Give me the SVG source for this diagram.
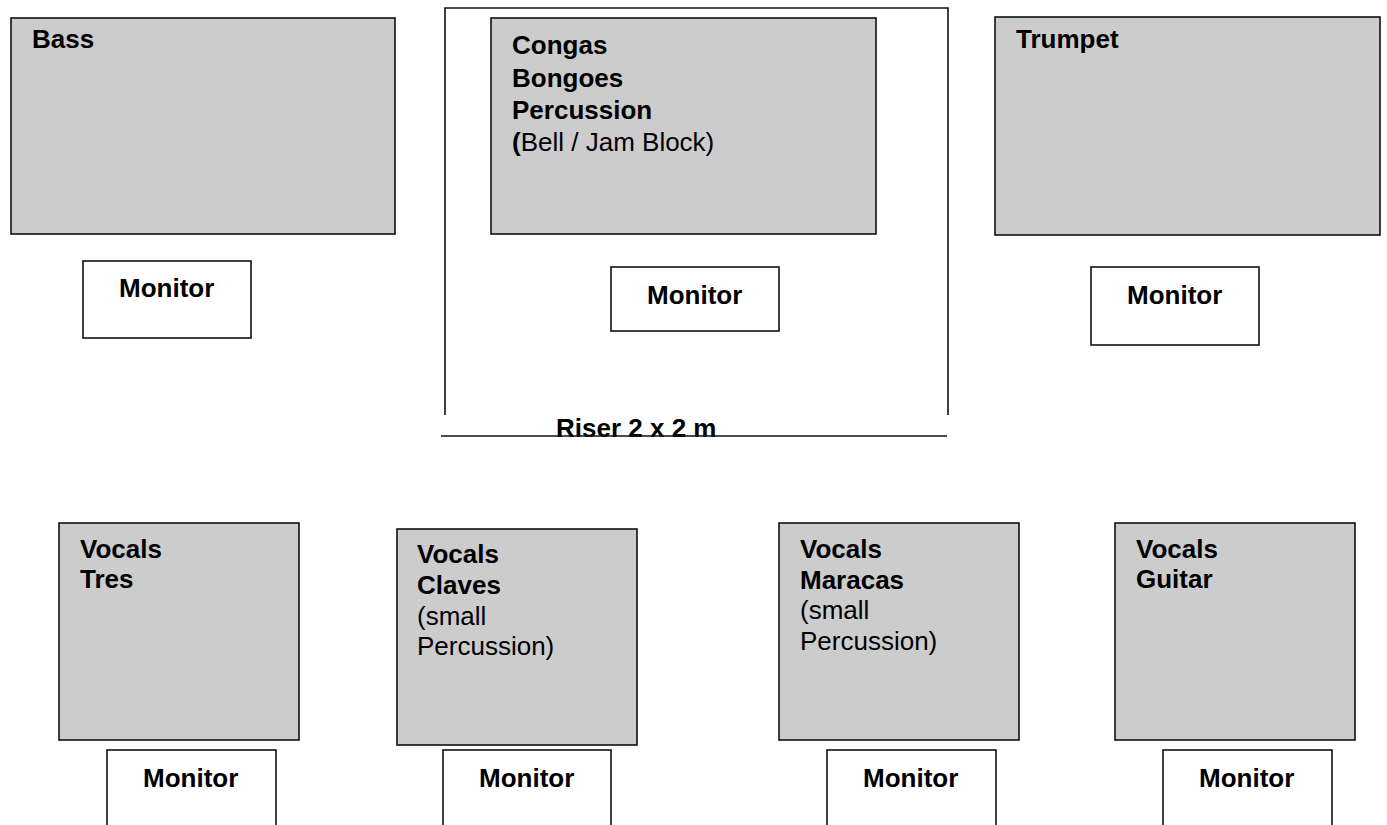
<svg xmlns="http://www.w3.org/2000/svg" width="1387" height="825" viewBox="0 0 1387 825">
<style>
.inst{fill:#cccccc;stroke:#111;stroke-width:1.6}
.mon{fill:#ffffff;stroke:#111;stroke-width:1.6}
.ln{stroke:#111;stroke-width:1.6;fill:none}
text{font-family:"Liberation Sans",Arial,Helvetica,sans-serif;font-size:26px;fill:#000}
.b{font-weight:bold}
</style>
<rect x="0" y="0" width="1387" height="825" fill="#ffffff"/>
<g id="riser">
<path class="ln" d="M445,415 V8 H948 V415"/>
<text class="b" x="556" y="437">Riser 2 x 2 m</text>
<line class="ln" x1="441" y1="436" x2="947" y2="436"/>
</g>
<g id="bass">
<rect class="inst" x="11" y="18" width="384" height="216"/>
<text class="b" x="32" y="48">Bass</text>
</g>
<g id="bass-monitor">
<rect class="mon" x="83" y="261" width="168" height="77"/>
<text class="b" x="119" y="297">Monitor</text>
</g>
<g id="congas">
<rect class="inst" x="491" y="18" width="385" height="216"/>
<text class="b" x="512" y="54">Congas</text>
<text class="b" x="512" y="87">Bongoes</text>
<text class="b" x="512" y="119">Percussion</text>
<text x="512" y="151"><tspan class="b">(</tspan>Bell / Jam Block)</text>
</g>
<g id="congas-monitor">
<rect class="mon" x="611" y="267" width="168" height="64"/>
<text class="b" x="647" y="304">Monitor</text>
</g>
<g id="trumpet">
<rect class="inst" x="995" y="17" width="385" height="218"/>
<text class="b" x="1016" y="48">Trumpet</text>
</g>
<g id="trumpet-monitor">
<rect class="mon" x="1091" y="267" width="168" height="78"/>
<text class="b" x="1127" y="304">Monitor</text>
</g>
<g id="tres">
<rect class="inst" x="59" y="523" width="240" height="217"/>
<text class="b" x="80" y="558">Vocals</text>
<text class="b" x="80" y="588">Tres</text>
</g>
<g id="tres-monitor">
<rect class="mon" x="107" y="750" width="169" height="90"/>
<text class="b" x="143" y="787">Monitor</text>
</g>
<g id="claves">
<rect class="inst" x="397" y="529" width="240" height="216"/>
<text class="b" x="417" y="563">Vocals</text>
<text class="b" x="417" y="594">Claves</text>
<text x="417" y="625">(small</text>
<text x="417" y="655">Percussion)</text>
</g>
<g id="claves-monitor">
<rect class="mon" x="443" y="750" width="168" height="90"/>
<text class="b" x="479" y="787">Monitor</text>
</g>
<g id="maracas">
<rect class="inst" x="779" y="523" width="240" height="217"/>
<text class="b" x="800" y="558">Vocals</text>
<text class="b" x="800" y="589">Maracas</text>
<text x="800" y="619">(small</text>
<text x="800" y="650">Percussion)</text>
</g>
<g id="maracas-monitor">
<rect class="mon" x="827" y="750" width="169" height="90"/>
<text class="b" x="863" y="787">Monitor</text>
</g>
<g id="guitar">
<rect class="inst" x="1115" y="523" width="240" height="217"/>
<text class="b" x="1136" y="558">Vocals</text>
<text class="b" x="1136" y="588">Guitar</text>
</g>
<g id="guitar-monitor">
<rect class="mon" x="1163" y="750" width="169" height="90"/>
<text class="b" x="1199" y="787">Monitor</text>
</g>
<g id="connectors"></g>
</svg>
